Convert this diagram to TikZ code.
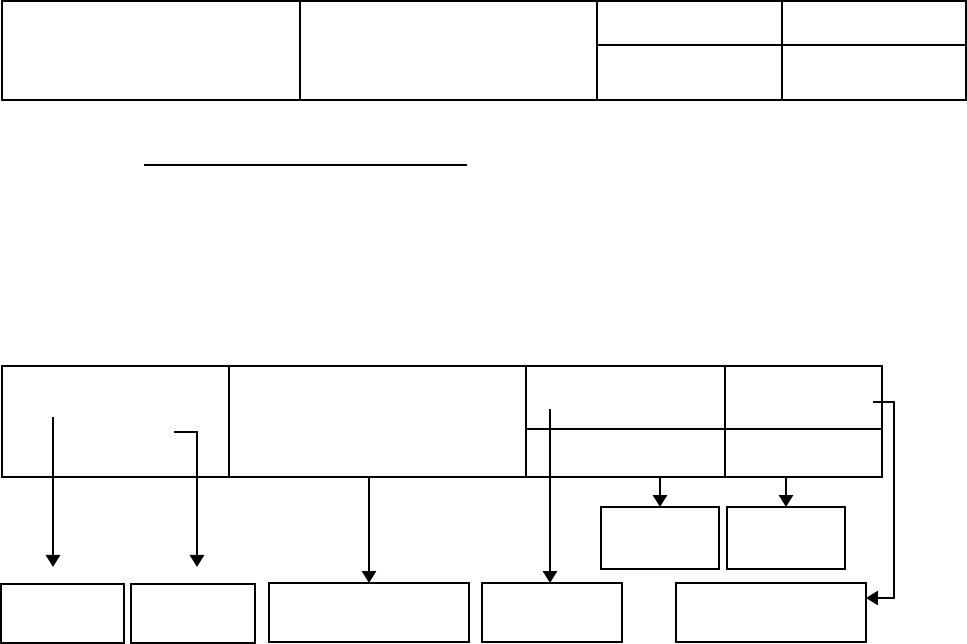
\documentclass[tikz,border=0pt]{standalone}
\usetikzlibrary{arrows.meta}

\tikzset{
	cell/.style={draw, line width=0.7pt, inner sep=0pt, outer sep=0pt},
	box/.style={draw, line width=0.8pt, inner sep=0pt, outer sep=0pt},
	arr/.style={line width=1.5pt, -{Triangle[width=0.28cm, length=0.24cm]}},
}

\begin{document}
\begin{tikzpicture}[x=0.02cm, y=-0.02cm]
	\useasboundingbox (0, 0) rectangle (967, 644);
	% Top table:
	\node[cell, minimum width=5.96cm, minimum height=1.98cm](T1) at (151, 50.5){};
	\node[cell, minimum width=5.94cm, minimum height=1.98cm](T2) at (448.5, 50.5){};
	\node[cell, minimum width=3.7cm, minimum height=0.88cm](T3) at (689.5, 23){};
	\node[cell, minimum width=3.68cm, minimum height=0.88cm](T4) at (874, 23){};
	\node[cell, minimum width=3.7cm, minimum height=1.1cm](T5) at (689.5, 72.5){};
	\node[cell, minimum width=3.68cm, minimum height=1.1cm](T6) at (874, 72.5){};
	% Underline:
	\coordinate (U1) at (144, 165);
	\coordinate (U2) at (467, 165);
	\draw[line width=1.1pt] (U1) -- (U2);
	% Lower table:
	\node[cell, minimum width=4.54cm, minimum height=2.22cm](L1) at (115.5, 421.5){};
	\node[cell, minimum width=5.94cm, minimum height=2.22cm](L2) at (377.5, 421.5){};
	\node[cell, minimum width=3.98cm, minimum height=1.26cm](L3) at (625.5, 397.5){};
	\node[cell, minimum width=3.14cm, minimum height=1.26cm](L4) at (803.5, 397.5){};
	\node[cell, minimum width=3.98cm, minimum height=0.96cm](L5) at (625.5, 453){};
	\node[cell, minimum width=3.14cm, minimum height=0.96cm](L6) at (803.5, 453){};
	% Boxes:
	\node[box, minimum width=2.36cm, minimum height=1.24cm](M1) at (660, 538){};
	\node[box, minimum width=2.36cm, minimum height=1.24cm](M2) at (786, 538){};
	\node[box, minimum width=2.46cm, minimum height=1.18cm](B1) at (62.5, 613.5){};
	\node[box, minimum width=2.48cm, minimum height=1.18cm](B2) at (193, 613.5){};
	\node[box, minimum width=4.0cm, minimum height=1.18cm](B3) at (369, 612.5){};
	\node[box, minimum width=2.8cm, minimum height=1.18cm](B4) at (552, 612.5){};
	\node[box, minimum width=3.8cm, minimum height=1.18cm](B5) at (771, 612.5){};
	% Arrows:
	\coordinate (S1) at (53, 417);
	\coordinate (E1) at (53, 567);
	\draw[arr] (S1) -- (E1);
	\coordinate (S2) at (174, 432);
	\coordinate (E2) at (197, 567);
	\draw[arr] (S2) -| (E2);
	\draw[arr] (B3.north |- L2.south) -- (B3.north);
	\coordinate (S4) at (550, 409);
	\draw[arr] (S4) -- (S4 |- B4.north);
	\draw[arr] (M1.north |- L5.south) -- (M1.north);
	\draw[arr] (M2.north |- L6.south) -- (M2.north);
	\coordinate (S7) at (873, 402);
	\coordinate (C7) at (894, 598);
	\draw[arr] (S7) -| (C7) -- (C7 -| B5.east);
\end{tikzpicture}
\end{document}
